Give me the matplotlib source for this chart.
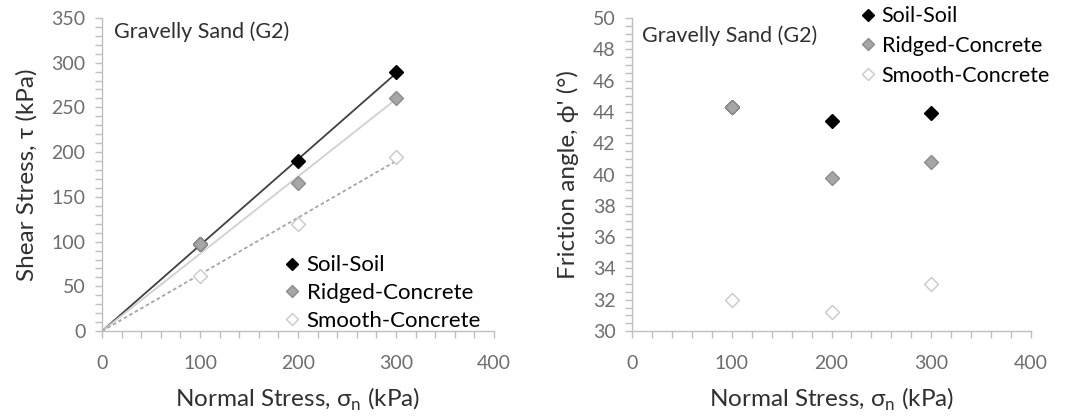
"""
Direct shear results for gravelly sand (G2): failure envelopes and friction angles
"""
import matplotlib.pyplot as plt
from matplotlib.ticker import MultipleLocator
import numpy as np

plt.rcParams["font.family"] = ["Lato", "DejaVu Sans"]
plt.rcParams["mathtext.fontset"] = "custom"
plt.rcParams["mathtext.rm"] = "Lato"

normal_stress = [100, 200, 300]
shear_soil = [97, 190, 289]
shear_ridged = [97, 166, 260]
shear_smooth = [62, 120, 195]

phi_soil = [44.3, 43.4, 43.9]
phi_ridged = [44.3, 39.8, 40.8]
phi_smooth = [32.0, 31.2, 33.0]

series = ["Soil-Soil", "Ridged-Concrete", "Smooth-Concrete"]
marker_face = ["#000000", "#A6A6A6", "#FFFFFF"]
marker_edge = ["#000000", "#8C8C8C", "#C8C8C8"]
line_color = ["#404040", "#D0D0D0", "#A6A6A6"]
line_style = ["-", "-", (0, (2, 1.5))]

TICK = "#6E6E6E"
SPINE = "#BFBFBF"
TEXT = "#303030"


def style_axes(ax, ymajor, yminor):
    ax.set_xlim(0, 400)
    ax.xaxis.set_major_locator(MultipleLocator(100))
    ax.xaxis.set_minor_locator(MultipleLocator(20))
    ax.yaxis.set_major_locator(MultipleLocator(ymajor))
    ax.yaxis.set_minor_locator(MultipleLocator(yminor))
    for side in ["top", "right"]:
        ax.spines[side].set_visible(False)
    for side in ["left", "bottom"]:
        ax.spines[side].set_color(SPINE)
        ax.spines[side].set_linewidth(1.0)
    ax.tick_params(which="both", direction="out", color=SPINE, length=5, width=1.0)
    ax.tick_params(axis="x", which="major", labelsize=14, labelcolor=TICK, pad=12)
    ax.tick_params(axis="y", which="major", labelsize=14, labelcolor=TICK, pad=7)
    ax.set_xlabel("Normal Stress, σ$_\\mathregular{n}$ (kPa)", fontsize=17.5, color=TEXT, labelpad=10)


fig = plt.figure(figsize=(10.68, 4.16), dpi=100)
ax1 = fig.add_axes([0.0955, 0.204, 0.367, 0.753])
ax2 = fig.add_axes([0.5918, 0.204, 0.3736, 0.753])

x = np.array(normal_stress, dtype=float)
shear = [shear_soil, shear_ridged, shear_smooth]
for i, name in enumerate(series):
    y = np.array(shear[i], dtype=float)
    slope = (x * y).sum() / (x * x).sum()  # trendline through origin
    ax1.plot([0, 300], [0, slope * 300], color=line_color[i], ls=line_style[i], lw=1.3, zorder=2)
for i, name in enumerate(series):
    ax1.plot(normal_stress, shear[i], "D", ms=7.5, mfc=marker_face[i], mec=marker_edge[i],
             mew=1.0, ls="none", label=name, zorder=3)

style_axes(ax1, 50, 10)
ax1.set_ylim(0, 350)
ax1.set_ylabel("Shear Stress, τ (kPa)", fontsize=17.5, color=TEXT, labelpad=10)
ax1.text(0.03, 0.99, "Gravelly Sand (G2)", transform=ax1.transAxes, fontsize=15.5,
         color=TEXT, va="top", ha="left")
ax1.legend(loc="lower right", bbox_to_anchor=(0.995, -0.035), frameon=False, fontsize=16,
           handlelength=0.6, handletextpad=0.35, labelspacing=0.35, markerscale=0.85,
           borderaxespad=0.1)

phi = [phi_soil, phi_ridged, phi_smooth]
for i, name in enumerate(series):
    ax2.plot(normal_stress, phi[i], "D", ms=7.5, mfc=marker_face[i], mec=marker_edge[i],
             mew=1.0, ls="none", label=name, zorder=3)

style_axes(ax2, 2, 0.5)
ax2.set_ylim(30, 50)
ax2.set_ylabel("Friction angle, ϕ' (°)", fontsize=17.5, color=TEXT, labelpad=10)
ax2.text(0.025, 0.975, "Gravelly Sand (G2)", transform=ax2.transAxes, fontsize=15.5,
         color=TEXT, va="top", ha="left")
ax2.legend(loc="upper left", bbox_to_anchor=(0.553, 1.065), frameon=False, fontsize=15.5,
           handlelength=0.6, handletextpad=0.35, labelspacing=0.45, markerscale=0.85,
           borderaxespad=0.0)

fig.savefig("out.png", dpi=100)
